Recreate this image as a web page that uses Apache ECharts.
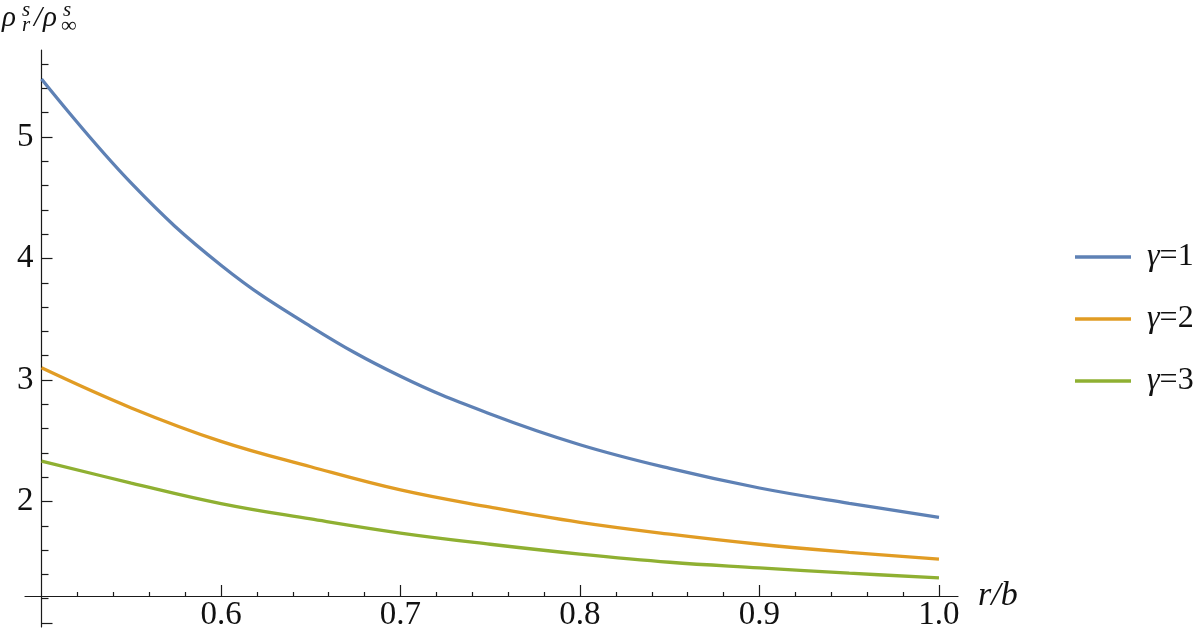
<!DOCTYPE html>
<html>
<head>
<meta charset="utf-8">
<script src="https://cdn.jsdelivr.net/npm/echarts@6/dist/echarts.min.js"></script>
<style>
html,body{margin:0;padding:0;background:#fff;}
#chart{width:1200px;height:633px;}
</style>
</head>
<body>
<div id="chart"></div>
<script>
// ---- data ----
const rValues = [0.5, 0.55, 0.6, 0.65, 0.7, 0.75, 0.8, 0.85, 0.9, 0.95, 1.0];
const gamma1 = [5.477, 4.62, 3.945, 3.44, 3.03, 2.72, 2.467, 2.272, 2.111, 1.985, 1.87];
const gamma2 = [3.10, 2.77, 2.495, 2.286, 2.095, 1.953, 1.828, 1.731, 1.648, 1.582, 1.525];
const gamma3 = [2.333, 2.152, 1.983, 1.856, 1.74, 1.648, 1.567, 1.50, 1.454, 1.41, 1.372];
const seriesNames = ['γ=1', 'γ=2', 'γ=3'];
const xMajorTicks = [0.6, 0.7, 0.8, 0.9, 1.0];
const xMinorTicks = [0.52, 0.54, 0.56, 0.58, 0.62, 0.64, 0.66, 0.68, 0.72, 0.74, 0.76, 0.78,
                     0.82, 0.84, 0.86, 0.88, 0.92, 0.94, 0.96, 0.98];
const yMajorTicks = [1, 2, 3, 4, 5];
const yLabelTicks = [2, 3, 4, 5];
const yMinorTicks = [1.2, 1.4, 1.6, 1.8, 2.2, 2.4, 2.6, 2.8, 3.2, 3.4, 3.6, 3.8,
                     4.2, 4.4, 4.6, 4.8, 5.2, 5.4, 5.6];

const colors = ['#5E81B5', '#E19C24', '#8FB032'];
const FONT = 'Liberation Serif';
const axisColor = '#1a1a1a';

const X_MIN = 0.4908, X_MAX = 1.0106;
const Y_MIN = 0.967, Y_MAX = 5.716;

function pairs(ys) { return rValues.map((r, i) => [r, ys[i]]); }

function txt(text, left, top, size, italic) {
  return {type: 'text', left: left, top: top,
          style: {text: text, fontFamily: FONT, fontSize: size, fontStyle: italic ? 'italic' : 'normal', fill: '#111'}};
}

const baseX = {
  type: 'value', min: X_MIN, max: X_MAX, position: 'bottom', offset: -31,
  splitLine: {show: false}, axisLine: {onZero: false}
};
const baseY = {
  type: 'value', min: Y_MIN, max: Y_MAX, position: 'left', offset: -16.5,
  splitLine: {show: false}, axisLine: {onZero: false}
};
const option = {
  animation: false,
  backgroundColor: '#ffffff',
  textStyle: {fontFamily: FONT},
  grid: {left: 25, top: 50, width: 933, height: 577, containLabel: false},
  xAxis: [
    Object.assign({}, baseX, {
      name: 'r/b', nameLocation: 'end', nameGap: 20,
      nameTextStyle: {fontFamily: FONT, fontStyle: 'italic', fontSize: 34, color: '#111', verticalAlign: 'middle'},
      axisLine: {show: true, onZero: false, lineStyle: {color: axisColor, width: 1.2}},
      axisTick: {show: true, inside: true, length: 11, customValues: xMajorTicks, lineStyle: {color: axisColor, width: 1.2}},
      axisLabel: {show: true, customValues: xMajorTicks, margin: 3, fontFamily: FONT, fontSize: 33, color: '#111',
                  formatter: v => Number(v).toFixed(1)}
    }),
    Object.assign({}, baseX, {
      axisLine: {show: false, onZero: false},
      axisTick: {show: true, inside: true, length: 4, customValues: xMinorTicks, lineStyle: {color: axisColor, width: 1.2}},
      axisLabel: {show: false}
    })
  ],
  yAxis: [
    Object.assign({}, baseY, {
      axisLine: {show: true, onZero: false, lineStyle: {color: axisColor, width: 1.2}},
      axisTick: {show: true, inside: true, length: 11, customValues: yMajorTicks, lineStyle: {color: axisColor, width: 1.2}},
      axisLabel: {show: true, customValues: yLabelTicks, margin: 8, fontFamily: FONT, fontSize: 33, color: '#111'}
    }),
    Object.assign({}, baseY, {
      axisLine: {show: false, onZero: false},
      axisTick: {show: true, inside: true, length: 7, customValues: yMinorTicks, lineStyle: {color: axisColor, width: 1.2}},
      axisLabel: {show: false}
    })
  ],
  legend: {
    orient: 'vertical', left: 1070, top: 235,
    icon: 'rect', itemWidth: 56, itemHeight: 3.3, itemGap: 28,
    data: seriesNames,
    formatter: function (name) { const p = name.split('='); return '{g|' + p[0] + '}{n|=' + p[1] + '}'; },
    textStyle: {
      fontFamily: FONT, fontSize: 32, color: '#111', padding: [0, 0, 0, 11], lineHeight: 34,
      rich: {
        g: {fontFamily: FONT, fontSize: 32, fontStyle: 'italic', color: '#111', lineHeight: 34},
        n: {fontFamily: FONT, fontSize: 32, color: '#111', lineHeight: 34}
      }
    }
  },
  graphic: [
    txt('ρ', 2, 4, 29, true),
    txt('s', 22, 0, 21, true),
    txt('r', 22, 15, 21, true),
    txt('/', 34, 4, 29, true),
    txt('ρ', 43, 4, 29, true),
    txt('s', 63, 0, 21, true),
    txt('∞', 61, 15, 22, false)
  ],
  series: [gamma1, gamma2, gamma3].map((ys, i) => ({
    name: seriesNames[i], type: 'line', xAxisIndex: 0, yAxisIndex: 0,
    data: pairs(ys), smooth: 0.4, showSymbol: false, symbol: 'none',
    lineStyle: {color: colors[i], width: 3.3}, itemStyle: {color: colors[i]}
  }))
};

const chart = echarts.init(document.getElementById('chart'), null, {renderer: 'canvas'});
chart.setOption(option);
</script>
</body>
</html>
